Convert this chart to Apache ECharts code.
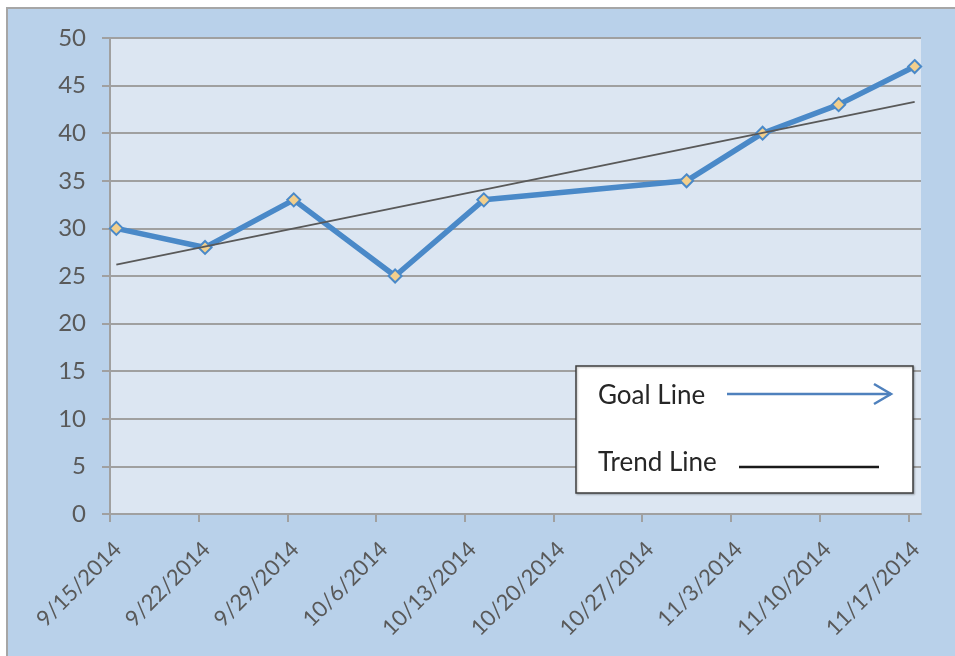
<!DOCTYPE html>
<html>
<head>
<meta charset="utf-8">
<script src="https://cdn.jsdelivr.net/npm/echarts@6/dist/echarts.min.js"></script>
<style>
  html, body { margin: 0; padding: 0; background: #ffffff; }
  #chart { width: 955px; height: 656px; }
</style>
</head>
<body>
<div id="chart"></div>
<script>
// axis starts on this date, one unit = one day
const startDate = '2014-09-15';
const axisDays = 64;
// goal line points (dates)
const goalDates = ['2014-09-15', '2014-09-22', '2014-09-29', '2014-10-07', '2014-10-14',
  '2014-10-30', '2014-11-05', '2014-11-11', '2014-11-17'];
const goalValues = [30, 28, 33, 25, 33, 35, 40, 43, 47];
// trend line ends
const trendDates = ['2014-09-15', '2014-11-17'];
const trendValues = [26.2, 43.3];
const yTicks = { min: 0, max: 50, step: 5 };

const DAY = 86400000;
const t0 = Date.parse(startDate + 'T00:00:00Z');
// excel date axis puts a point in the middle of its day
const toDay = d => (Date.parse(d + 'T00:00:00Z') - t0) / DAY + 0.5;
const fmtDay = v => {
  const d = new Date(t0 + v * DAY);
  return (d.getUTCMonth() + 1) + '/' + d.getUTCDate() + '/' + d.getUTCFullYear();
};

const goalData = goalDates.map((d, i) => [toDay(d), goalValues[i]]);
const trendData = trendDates.map((d, i) => [toDay(d), trendValues[i]]);

const font = 'Lato, "Open Sans", sans-serif';
const labelColor = '#595959';
const axisGray = '#a0a0a0';

const chart = echarts.init(document.getElementById('chart'));
chart.setOption({
  backgroundColor: '#ffffff',
  animation: false,
  graphic: [
    {
      type: 'rect', z: -10, silent: true,
      shape: { x: 7, y: 8, width: 960, height: 660 },
      style: { fill: '#b9d1ea', stroke: '#a6a6a6', lineWidth: 2 }
    },
    // the text box that stands in for a legend
    {
      type: 'rect', z: 100,
      shape: { x: 576, y: 366, width: 337, height: 127 },
      style: { fill: '#ffffff', stroke: '#3f3f3f', lineWidth: 1.5,
        shadowColor: 'rgba(0,0,0,0.25)', shadowBlur: 2, shadowOffsetX: 1, shadowOffsetY: 1 }
    },
    {
      type: 'text', z: 101, x: 598, y: 396,
      style: { text: 'Goal Line', font: '26px ' + font, fill: '#262626', verticalAlign: 'middle' }
    },
    {
      type: 'line', z: 101,
      shape: { x1: 727, y1: 394, x2: 891, y2: 394 },
      style: { stroke: '#4f81bd', lineWidth: 2.5 }
    },
    {
      type: 'polyline', z: 101,
      shape: { points: [[874, 384], [891, 394], [874, 404]] },
      style: { stroke: '#4f81bd', lineWidth: 2.5, fill: null }
    },
    {
      type: 'text', z: 101, x: 598, y: 463,
      style: { text: 'Trend Line', font: '26px ' + font, fill: '#262626', verticalAlign: 'middle' }
    },
    {
      type: 'line', z: 101,
      shape: { x1: 739, y1: 467, x2: 879, y2: 467 },
      style: { stroke: '#1a1a1a', lineWidth: 2.5 }
    }
  ],
  grid: {
    left: 110, top: 38, width: 811, height: 476,
    show: true, backgroundColor: '#dce6f2', borderWidth: 0
  },
  xAxis: {
    type: 'value',
    min: 0, max: axisDays, interval: 7,
    axisLine: { show: true, lineStyle: { color: axisGray, width: 2 } },
    axisTick: { show: true, length: 8, lineStyle: { color: axisGray, width: 2 } },
    splitLine: { show: false },
    axisLabel: {
      rotate: 45, margin: 24, verticalAlign: 'top', color: labelColor, fontSize: 22, fontFamily: font,
      showMaxLabel: false,
      formatter: v => (v % 7 === 0 ? fmtDay(v) : '')
    }
  },
  yAxis: {
    type: 'value',
    min: yTicks.min, max: yTicks.max, interval: yTicks.step,
    axisLine: { show: true, lineStyle: { color: axisGray, width: 2 } },
    axisTick: { show: true, length: 8, lineStyle: { color: axisGray, width: 2 } },
    splitLine: { show: true, lineStyle: { color: axisGray, width: 2 } },
    axisLabel: { margin: 24, color: labelColor, fontSize: 24, fontFamily: font }
  },
  series: [
    {
      name: 'Trend Line',
      type: 'line',
      data: trendData,
      symbol: 'none',
      z: 3,
      lineStyle: { color: '#595959', width: 1.8 }
    },
    {
      name: 'Goal Line',
      type: 'line',
      data: goalData,
      symbol: 'diamond',
      symbolSize: 13,
      z: 2,
      lineStyle: { color: '#4a89c8', width: 5.5 },
      itemStyle: { color: '#f2cf8c', borderColor: '#4a89c8', borderWidth: 2 }
    }
  ]
});
</script>
</body>
</html>
